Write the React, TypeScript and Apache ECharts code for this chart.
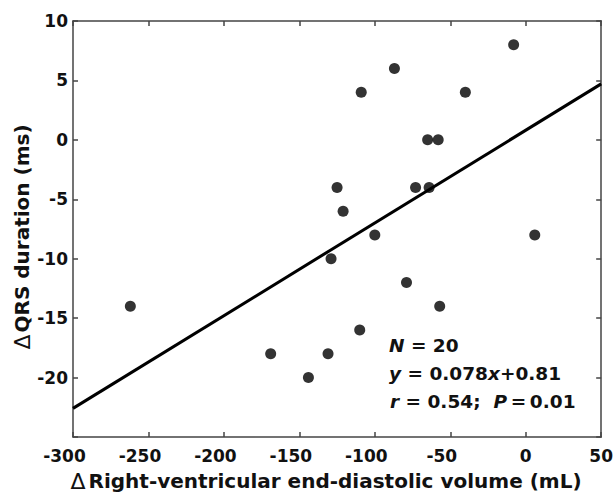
import React, { useEffect, useRef } from "react";
import * as echarts from "echarts";

const volumeChange = [-8, -87, -109, -40, -65, -58, -125, -73, -64, -121, -100, 6, -129, -79, -57, -110, -131, -144, -262, -169];
const qrsChange = [8, 6, 4, 4, 0, 0, -4, -4, -4, -6, -8, -8, -10, -12, -14, -16, -18, -20, -14, -18];
const fitSlope = 0.078;
const fitIntercept = 0.81;
const fitRange = [-300, 50];

const FONT = "'DejaVu Sans', 'Liberation Sans', Arial, sans-serif";

export default function App() {
  const ref = useRef<HTMLDivElement>(null);
  useEffect(() => {
    if (!ref.current) return;
    const chart = echarts.init(ref.current, undefined, { renderer: "svg" });
    const points = volumeChange.map((x, i) => [x, qrsChange[i]]);
    const fitLine = fitRange.map((x) => [x, fitSlope * x + fitIntercept]);
    const axisLineStyle = { color: "#444", width: 1.5 };
    const italic = { fontStyle: "italic", fontWeight: "bold", fontSize: 18.5, fontFamily: FONT, fill: "#111" };
    const plain = { fontWeight: "bold", fontSize: 18.5, fontFamily: FONT, fill: "#111" };
    const tickFont = { color: "#111", fontSize: 17, fontWeight: "bold", fontFamily: FONT };
    chart.setOption({
      animation: false,
      backgroundColor: "#fff",
      grid: { left: 73, right: 13, top: 21, bottom: 56, containLabel: false },
      xAxis: [
        {
          type: "value",
          min: -300,
          max: 50,
          interval: 50,
          position: "bottom",
          axisLine: { show: true, onZero: false, lineStyle: axisLineStyle },
          axisTick: { show: true, inside: true, length: 5, lineStyle: axisLineStyle },
          axisLabel: {
            ...tickFont,
            margin: 10,
            formatter: (v: number) => (v < 0 ? `{neg|${v}}` : `{pos|${v}}`),
            rich: {
              neg: { ...tickFont, padding: [0, 17, 0, 0] },
              pos: { ...tickFont },
            },
          },
          splitLine: { show: false },
        },
        {
          type: "value",
          min: -300,
          max: 50,
          interval: 50,
          position: "top",
          axisLine: { show: true, onZero: false, lineStyle: axisLineStyle },
          axisTick: { show: true, inside: true, length: 5, lineStyle: axisLineStyle },
          axisLabel: { show: false },
          splitLine: { show: false },
        },
      ],
      yAxis: [
        {
          type: "value",
          min: -25,
          max: 10,
          interval: 5,
          position: "left",
          axisLine: { show: true, onZero: false, lineStyle: axisLineStyle },
          axisTick: { show: true, inside: true, length: 5, lineStyle: axisLineStyle },
          axisLabel: {
            ...tickFont,
            margin: 5,
            formatter: (v: number) => (v === -25 ? "" : String(v)),
          },
          splitLine: { show: false },
        },
        {
          type: "value",
          min: -25,
          max: 10,
          interval: 5,
          position: "right",
          axisLine: { show: true, onZero: false, lineStyle: axisLineStyle },
          axisTick: { show: true, inside: true, length: 5, lineStyle: axisLineStyle },
          axisLabel: { show: false },
          splitLine: { show: false },
        },
      ],
      series: [
        {
          type: "line",
          data: fitLine,
          xAxisIndex: 0,
          yAxisIndex: 0,
          showSymbol: false,
          symbol: "none",
          lineStyle: { color: "#000", width: 3 },
          silent: true,
        },
        {
          type: "scatter",
          data: points,
          xAxisIndex: 0,
          yAxisIndex: 0,
          symbol: "circle",
          symbolSize: 11,
          itemStyle: { color: "#000" },
        },
      ],
      graphic: [
        {
          type: "text",
          x: 326,
          y: 481,
          style: {
            text: "{d|\u0394}{b|Right-ventricular end-diastolic volume (mL)}",
            align: "center",
            verticalAlign: "middle",
            rich: {
              d: { fontSize: 22, fontFamily: "'DejaVu Sans', sans-serif", fontWeight: "normal", fill: "#111", padding: [0, 3, 0, 0] },
              b: { fontSize: 20, fontFamily: FONT, fontWeight: "bold", fill: "#111" },
            },
          },
        },
        {
          type: "text",
          x: 22,
          y: 237,
          rotation: Math.PI / 2,
          style: {
            text: "{d|\u0394}{b|QRS duration (ms)}",
            align: "center",
            verticalAlign: "middle",
            rich: {
              d: { fontSize: 22, fontFamily: "'DejaVu Sans', sans-serif", fontWeight: "normal", fill: "#111", padding: [0, 2, 0, 0] },
              b: { fontSize: 20, fontFamily: FONT, fontWeight: "bold", fill: "#111" },
            },
          },
        },
        {
          type: "text",
          x: 389,
          y: 345,
          style: {
            text: "{i|N}{p| = 20}",
            align: "left",
            verticalAlign: "middle",
            rich: { i: italic, p: plain },
          },
        },
        {
          type: "text",
          x: 389,
          y: 373,
          style: {
            text: "{i|y}{p| = 0.078}{i|x}{p|+0.81}",
            align: "left",
            verticalAlign: "middle",
            rich: { i: italic, p: plain },
          },
        },
        {
          type: "text",
          x: 390,
          y: 401,
          style: {
            text: "{i|r}{p| = 0.54;  }{i|P}{p|\u2009=\u20090.01}",
            align: "left",
            verticalAlign: "middle",
            rich: { i: italic, p: plain },
          },
        },
      ],
    });
    return () => chart.dispose();
  }, []);
  return <div ref={ref} style={{ width: 616, height: 493, position: "absolute", left: 0, top: 0 }} />;
}
